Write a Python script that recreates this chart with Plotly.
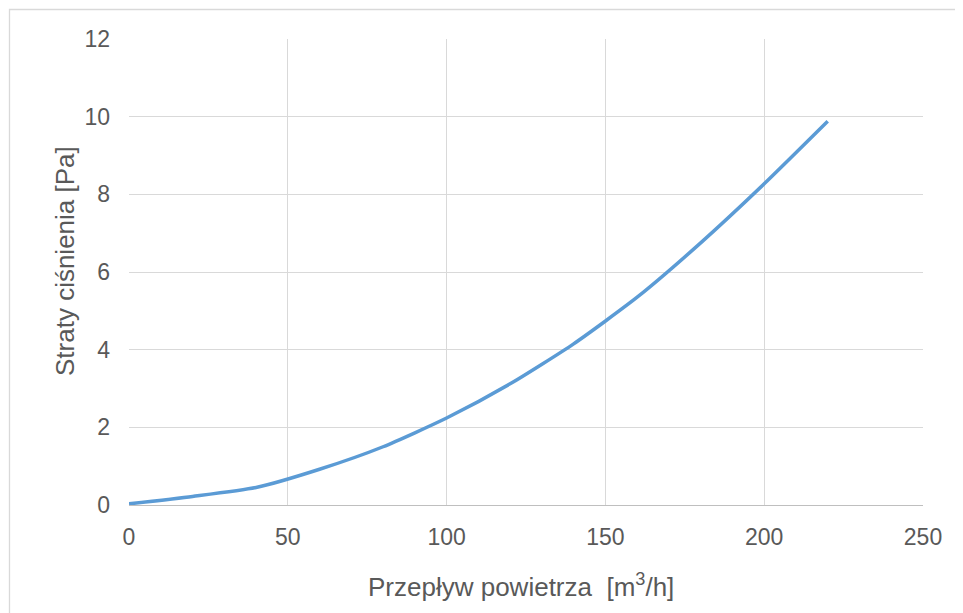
import plotly.graph_objects as go

flow = [0, 20, 40, 60, 80, 100, 120, 140, 160, 180, 200, 220]
loss = [0.03, 0.22, 0.45, 0.92, 1.5, 2.24, 3.12, 4.15, 5.35, 6.75, 8.27, 9.88]

x_ticks = [0, 50, 100, 150, 200, 250]
y_ticks = [0, 2, 4, 6, 8, 10, 12]

x_title = "Przepływ powietrza  [m<sup>3</sup>/h]"
y_title = "Straty ciśnienia [Pa]"

fig = go.Figure()
fig.add_trace(go.Scatter(
    x=flow, y=loss, mode="lines",
    line=dict(color="#5B9BD5", width=3.5, shape="spline", smoothing=0.6),
    showlegend=False, hoverinfo="x+y"))

font_fam = "Liberation Sans, Arial, sans-serif"
W, H = 955, 605
L, R, T, B = 121, 40, 31, 108
pw, ph = W - L - R, H - T - B
fig.update_layout(
    width=W, height=H,
    margin=dict(l=L, r=R, t=T, b=B, pad=0),
    paper_bgcolor="white", plot_bgcolor="white",
    font=dict(family=font_fam, color="#595959", size=23),
    xaxis=dict(range=[0, 250], tickvals=x_ticks, showgrid=True, gridcolor="#D9D9D9",
               gridwidth=1.3, zeroline=False, showline=True, linecolor="#BFBFBF", linewidth=1.3,
               mirror=False, ticks="", ticklabelstandoff=11,
               tickfont=dict(size=23, color="#595959")),
    yaxis=dict(range=[0, 12], tickvals=y_ticks, showgrid=True, gridcolor="#D9D9D9",
               gridwidth=1.3, zeroline=False, showline=False, ticks="", ticklabelstandoff=18,
               tickfont=dict(size=23, color="#595959")),
    annotations=[
        dict(text=x_title, xref="paper", yref="paper", x=(513 - L) / pw, y=(T + ph - 577) / ph,
             xanchor="center", yanchor="middle", showarrow=False,
             font=dict(size=26, color="#595959")),
        dict(text=y_title, xref="paper", yref="paper", x=(57 - L) / pw, y=(T + ph - 253) / ph,
             xanchor="center", yanchor="middle", showarrow=False, textangle=-90,
             font=dict(size=26, color="#595959")),
    ],
    shapes=[dict(type="rect", xref="paper", yref="paper",
                 x0=(1.5 - L) / pw, x1=1.2, y0=-0.5, y1=(T + ph - 1.5) / ph,
                 line=dict(color="#D9D9D9", width=1.3), fillcolor="rgba(0,0,0,0)", layer="below")],
)

fig.write_html("out.html")
